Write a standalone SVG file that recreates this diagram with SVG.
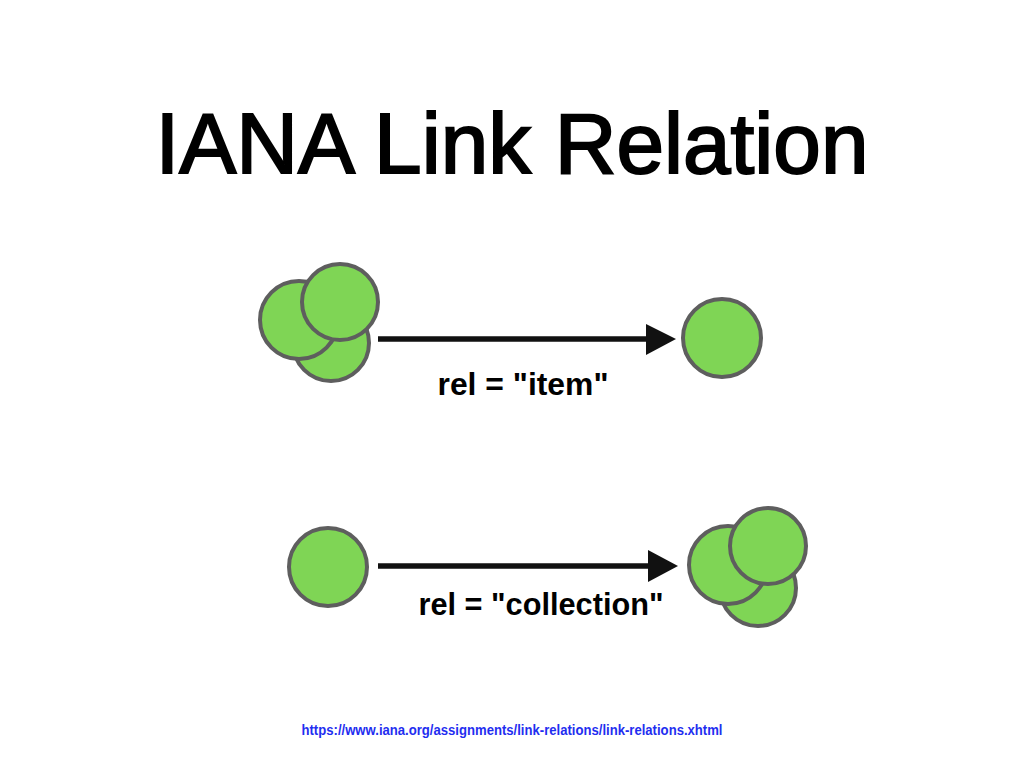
<svg xmlns="http://www.w3.org/2000/svg" width="1024" height="768" viewBox="0 0 1024 768">
<style>
.c{fill:#7fd555;stroke:#5e5e5e;stroke-width:4}
.t{font-family:"Liberation Sans",Arial,sans-serif;fill:#000}
.lbl{font-size:31px;font-weight:bold}
.ln{stroke:#111;stroke-width:5.5;fill:none}
</style>
<rect width="1024" height="768" fill="#fff"/>
<text class="t" x="512" y="173" font-size="85" stroke="#000" stroke-width="2" text-anchor="middle" textLength="713" lengthAdjust="spacingAndGlyphs">IANA Link Relation</text>
<g id="many1">
<circle class="c" cx="331" cy="343" r="38"/>
<circle class="c" cx="299" cy="320" r="39"/>
<circle class="c" cx="340" cy="302" r="38"/>
</g>
<g id="one1"><circle class="c" cx="722" cy="338" r="39"/></g>
<g id="one2"><circle class="c" cx="328" cy="567" r="39"/></g>
<g id="many2">
<circle class="c" cx="758" cy="588" r="38"/>
<circle class="c" cx="728" cy="565" r="39"/>
<circle class="c" cx="768" cy="546" r="38"/>
</g>
<g id="connectors">
<line class="ln" x1="378" y1="339" x2="650" y2="339"/>
<path d="M646,324 L676,339 L646,355 Z" fill="#111"/>
<line class="ln" x1="378" y1="566" x2="652" y2="566"/>
<path d="M648,550 L678,566 L648,582 Z" fill="#111"/>
</g>
<text class="t lbl" x="523" y="395" text-anchor="middle" textLength="171" lengthAdjust="spacingAndGlyphs">rel = "item"</text>
<text class="t lbl" x="541" y="615" text-anchor="middle" textLength="245" lengthAdjust="spacingAndGlyphs">rel = "collection"</text>
<text class="t" x="512" y="735" font-size="14.5" font-weight="bold" style="fill:#1f2ef0" text-anchor="middle" textLength="421" lengthAdjust="spacingAndGlyphs">https://www.iana.org/assignments/link-relations/link-relations.xhtml</text>
</svg>
